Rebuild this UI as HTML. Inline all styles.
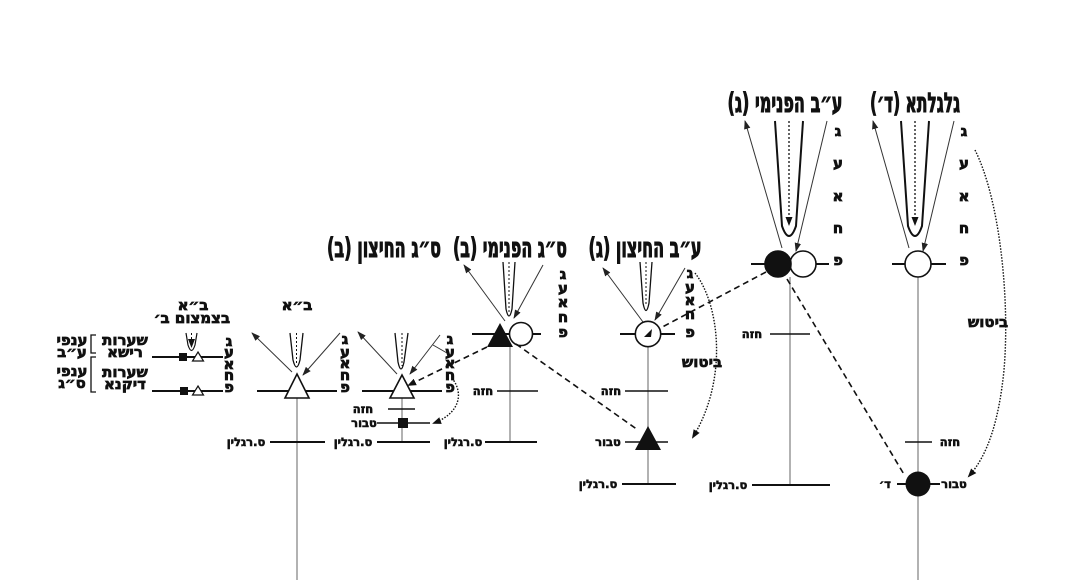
<!DOCTYPE html>
<html><head><meta charset="utf-8"><style>
html,body{margin:0;padding:0;background:#fff;}
svg{display:block;}
text{font-family:"DejaVu Sans","Liberation Sans",sans-serif;font-weight:bold;fill:#111;stroke:#111;}
.t{font-size:27px;stroke-width:1.1;}
.l{font-size:15px;stroke-width:0.7;}
.s{font-size:11.5px;stroke-width:0.6;}
.m{font-size:15px;stroke-width:0.7;}
</style></head><body>
<svg width="1068" height="580" viewBox="0 0 1068 580" xmlns="http://www.w3.org/2000/svg">
<defs>
<marker id="ah" markerWidth="9" markerHeight="8" refX="8" refY="4" orient="auto" markerUnits="userSpaceOnUse"><path d="M0,0.8 L9,4 L0,7.2 z" fill="#222"/></marker>
<marker id="ahs" markerWidth="9" markerHeight="8" refX="7" refY="4" orient="auto" markerUnits="userSpaceOnUse"><path d="M0,0.5 L9,4 L0,7.5 z" fill="#111"/></marker>
</defs>
<rect width="1068" height="580" fill="#fff"/>

<g fill="none" stroke="#111">
<!-- ===== Galgalta ===== -->
<line x1="918" y1="277" x2="918" y2="580" stroke="#888" stroke-width="1.3"/>
<line x1="892" y1="264" x2="946" y2="264" stroke-width="2"/>
<path d="M901,121 L908,226 Q915,246 922,226 L929,121" stroke-width="2"/>
<line x1="915" y1="121" x2="915" y2="224" stroke-width="1.3" stroke-dasharray="2,2" marker-end="url(#ahs)"/>
<line x1="909" y1="248" x2="873" y2="121" stroke-width="1" stroke="#333" marker-end="url(#ah)"/>
<line x1="954" y1="121" x2="923" y2="251" stroke-width="1" stroke="#333" marker-end="url(#ah)"/>
<circle cx="918" cy="264" r="13" fill="#fff" stroke-width="1.6"/>
<line x1="905" y1="442" x2="932" y2="442" stroke-width="1.6"/>
<line x1="897" y1="484" x2="940" y2="484" stroke-width="2"/>
<circle cx="918" cy="484" r="12.5" fill="#111" stroke="none"/>
<path d="M975,150 C1000,200 1010,300 1004,370 C999,420 988,455 969,476" stroke-width="1.4" stroke-dasharray="1.5,1.5" marker-end="url(#ahs)"/>

<!-- ===== AB Pnimi ===== -->
<line x1="790" y1="277" x2="790" y2="485" stroke="#888" stroke-width="1.3"/>
<line x1="751" y1="264" x2="829" y2="264" stroke-width="2"/>
<path d="M775,121 L782,226 Q789,246 796,226 L803,121" stroke-width="2"/>
<line x1="789" y1="121" x2="789" y2="224" stroke-width="1.3" stroke-dasharray="2,2" marker-end="url(#ahs)"/>
<line x1="782" y1="248" x2="745" y2="121" stroke-width="1" stroke="#333" marker-end="url(#ah)"/>
<line x1="827" y1="121" x2="796" y2="251" stroke-width="1" stroke="#333" marker-end="url(#ah)"/>
<circle cx="803" cy="264" r="13" fill="#fff" stroke-width="1.6"/>
<circle cx="778" cy="264" r="13" fill="#111" stroke="#111" stroke-width="1.6"/>
<line x1="770" y1="334" x2="810" y2="334" stroke-width="1.6"/>
<line x1="752" y1="485" x2="830" y2="485" stroke-width="2"/>
<line x1="787" y1="279" x2="905" y2="476" stroke-width="1.6" stroke-dasharray="6,4"/>
<line x1="766" y1="272" x2="651" y2="333" stroke-width="1.6" stroke-dasharray="6,4" marker-end="url(#ahs)"/>

<!-- ===== AB Chitzon ===== -->
<line x1="648" y1="347" x2="648" y2="485" stroke="#888" stroke-width="1.3"/>
<line x1="620" y1="334" x2="675" y2="334" stroke-width="2"/>
<path d="M640,262 L643,303 Q646,318 649,303 L652,262" stroke-width="1.3"/>
<line x1="646" y1="262" x2="646" y2="306" stroke-width="1" stroke-dasharray="2,2"/>
<line x1="643" y1="322" x2="603" y2="268" stroke-width="1" stroke="#333" marker-end="url(#ah)"/>
<line x1="685" y1="268" x2="655" y2="320" stroke-width="1" stroke="#333" marker-end="url(#ah)"/>
<circle cx="648" cy="334" r="12.7" fill="#fff" stroke-width="1.6"/>
<path d="M644,337 L652,329 L651,337 z" fill="#111" stroke="none"/>
<line x1="625" y1="391" x2="668" y2="391" stroke-width="1.6"/>
<line x1="625" y1="442" x2="668" y2="442" stroke-width="1.6"/>
<path d="M648,426 L661,450 L635,450 z" fill="#111" stroke="none"/>
<line x1="622" y1="484" x2="676" y2="484" stroke-width="2"/>
<path d="M695,273 C720,305 728,380 693,437" stroke-width="1.4" stroke-dasharray="1.5,1.5" marker-end="url(#ahs)"/>

<!-- ===== SAG Pnimi ===== -->
<line x1="510" y1="347" x2="510" y2="442" stroke="#888" stroke-width="1.3"/>
<line x1="472" y1="334" x2="541" y2="334" stroke-width="2"/>
<path d="M503,262 L506,309 Q509,323 512,309 L515,262" stroke-width="1.3"/>
<line x1="509" y1="262" x2="509" y2="313" stroke-width="1" stroke-dasharray="2,2"/>
<line x1="505" y1="321" x2="464" y2="265" stroke-width="1" stroke="#333" marker-end="url(#ah)"/>
<line x1="543" y1="265" x2="514" y2="318" stroke-width="1" stroke="#333" marker-end="url(#ah)"/>
<circle cx="521" cy="334" r="11.5" fill="#fff" stroke-width="1.6"/>
<path d="M500,323 L513,347 L487,347 z" fill="#111" stroke="none"/>
<line x1="497" y1="391" x2="538" y2="391" stroke-width="1.6"/>
<line x1="485" y1="442" x2="537" y2="442" stroke-width="2"/>
<line x1="516" y1="344" x2="638" y2="430" stroke-width="1.6" stroke-dasharray="6,4"/>
<line x1="487" y1="347" x2="409" y2="385" stroke-width="1.6" stroke-dasharray="6,4" marker-end="url(#ahs)"/>

<!-- ===== SAG Chitzon ===== -->
<line x1="402" y1="398" x2="402" y2="442" stroke="#888" stroke-width="1.3"/>
<line x1="362" y1="391" x2="442" y2="391" stroke-width="2"/>
<path d="M395,333 L398,362 Q401,376 404,362 L408,333" stroke-width="1.3"/>
<line x1="402" y1="333" x2="402" y2="366" stroke-width="1" stroke-dasharray="2,2"/>
<line x1="397" y1="374" x2="358" y2="332" stroke-width="1" stroke="#333" marker-end="url(#ah)"/>
<line x1="440" y1="335" x2="410" y2="374" stroke-width="1" stroke="#333" marker-end="url(#ah)"/>
<line x1="433" y1="345" x2="447" y2="353" stroke-width="1" stroke="#333"/>
<path d="M402,375 L414,398 L390,398 z" fill="#fff" stroke-width="1.6"/>
<line x1="388" y1="409" x2="415" y2="409" stroke-width="1.6"/>
<line x1="377" y1="423" x2="430" y2="423" stroke-width="1.6"/>
<rect x="398" y="418" width="10" height="10" fill="#111" stroke="none"/>
<line x1="377" y1="442" x2="430" y2="442" stroke-width="2"/>
<path d="M452,378 C465,395 458,414 434,423" stroke-width="1.4" stroke-dasharray="1.5,1.5" marker-end="url(#ahs)"/>

<!-- ===== BA ===== -->
<line x1="297" y1="398" x2="297" y2="580" stroke="#888" stroke-width="1.3"/>
<line x1="257" y1="391" x2="337" y2="391" stroke-width="2"/>
<path d="M290,333 L293,360 Q296.5,374 300,360 L303,333" stroke-width="1.3"/>
<line x1="296.5" y1="333" x2="296.5" y2="364" stroke-width="1" stroke-dasharray="2,2"/>
<line x1="292" y1="372" x2="252" y2="333" stroke-width="1" stroke="#333" marker-end="url(#ah)"/>
<line x1="340" y1="333" x2="303" y2="375" stroke-width="1" stroke="#333" marker-end="url(#ah)"/>
<path d="M297,374 L309,398 L285,398 z" fill="#fff" stroke-width="1.6"/>
<line x1="270" y1="442" x2="325" y2="442" stroke-width="2"/>

<!-- ===== Left panel ===== -->
<line x1="152" y1="357" x2="223" y2="357" stroke-width="2"/>
<line x1="152" y1="391" x2="223" y2="391" stroke-width="2"/>
<path d="M186,333 L188,345 Q191.5,356 195,345 L197,333" stroke-width="1.2"/>
<line x1="191.5" y1="333" x2="191.5" y2="346" stroke-width="1" stroke-dasharray="2,2" marker-end="url(#ahs)"/>
<rect x="179" y="353" width="8" height="8" fill="#111" stroke="none"/>
<path d="M198,352 L203.5,361 L192.5,361 z" fill="#fff" stroke-width="1.2"/>
<rect x="180" y="387" width="8" height="8" fill="#111" stroke="none"/>
<path d="M198,386 L203.5,395 L192.5,395 z" fill="#fff" stroke-width="1.2"/>
<path d="M96,335 H91 V353 H96" stroke-width="1.3"/>
<path d="M96,357 H91 V392 H96" stroke-width="1.3"/>
</g>

<!-- ===== Titles ===== -->
<text class="t" x="915" y="112" text-anchor="middle" direction="rtl" textLength="90" lengthAdjust="spacingAndGlyphs">גלגלתא (ד׳)</text>
<text class="t" x="785" y="112" text-anchor="middle" direction="rtl" textLength="115" lengthAdjust="spacingAndGlyphs">ע״ב הפנימי (ג)</text>
<text class="t" x="645" y="257" text-anchor="middle" direction="rtl" textLength="113" lengthAdjust="spacingAndGlyphs">ע״ב החיצון (ג)</text>
<text class="t" x="510" y="257" text-anchor="middle" direction="rtl" textLength="114" lengthAdjust="spacingAndGlyphs">ס״ג הפנימי (ב)</text>
<text class="t" x="384" y="257" text-anchor="middle" direction="rtl" textLength="114" lengthAdjust="spacingAndGlyphs">ס״ג החיצון (ב)</text>
<text class="m" x="297" y="310" text-anchor="middle" direction="rtl">ב״א</text>
<text class="m" x="193" y="310" text-anchor="middle" direction="rtl">ב״א</text>
<text class="m" x="192" y="323" text-anchor="middle" direction="rtl">בצמצום ב׳</text>

<!-- ===== Letter columns ===== -->
<g text-anchor="middle" dominant-baseline="central">
<text class="l" x="964" y="131">ג</text><text class="l" x="964" y="163">ע</text><text class="l" x="964" y="196">א</text><text class="l" x="964" y="228">ח</text><text class="l" x="964" y="260">פ</text>
<text class="l" x="838" y="131">ג</text><text class="l" x="838" y="163">ע</text><text class="l" x="838" y="196">א</text><text class="l" x="838" y="228">ח</text><text class="l" x="838" y="260">פ</text>
<text class="l" x="690" y="273">ג</text><text class="l" x="690" y="287">ע</text><text class="l" x="690" y="300">א</text><text class="l" x="690" y="314">ח</text><text class="l" x="690" y="332">פ</text>
<text class="l" x="563" y="274">ג</text><text class="l" x="563" y="288">ע</text><text class="l" x="563" y="302">א</text><text class="l" x="563" y="317">ח</text><text class="l" x="563" y="332">פ</text>
<text class="l" x="450" y="339">ג</text><text class="l" x="450" y="352">ע</text><text class="l" x="450" y="363">א</text><text class="l" x="450" y="375">ח</text><text class="l" x="450" y="387">פ</text>
<text class="l" x="345" y="339">ג</text><text class="l" x="345" y="352">ע</text><text class="l" x="345" y="363">א</text><text class="l" x="345" y="375">ח</text><text class="l" x="345" y="387">פ</text>
<text class="l" x="229" y="341">ג</text><text class="l" x="229" y="352">ע</text><text class="l" x="229" y="364">א</text><text class="l" x="229" y="375">ח</text><text class="l" x="229" y="387">פ</text>
</g>

<!-- ===== Small labels ===== -->
<g text-anchor="middle" dominant-baseline="central" direction="rtl">
<text class="s" x="950" y="442">חזה</text>
<text class="s" x="885" y="484">ד׳</text>
<text class="s" x="954" y="484">טבור</text>
<text class="m" x="988" y="322">ביטוש</text>
<text class="s" x="752" y="334">חזה</text>
<text class="s" x="728" y="485">ס.רגלין</text>
<text class="s" x="611" y="391">חזה</text>
<text class="s" x="608" y="442">טבור</text>
<text class="s" x="598" y="484">ס.רגלין</text>
<text class="m" x="702" y="362">ביטוש</text>
<text class="s" x="483" y="391">חזה</text>
<text class="s" x="463" y="442">ס.רגלין</text>
<text class="s" x="363" y="409">חזה</text>
<text class="s" x="364" y="423">טבור</text>
<text class="s" x="353" y="442">ס.רגלין</text>
<text class="s" x="246" y="442">ס.רגלין</text>
<text class="m" x="125" y="340">שערות</text>
<text class="m" x="125" y="352">רישא</text>
<text class="m" x="125" y="372">שערות</text>
<text class="m" x="125" y="384">דיקנא</text>
<text class="m" x="72" y="340">ענפי</text>
<text class="m" x="72" y="352">ע״ב</text>
<text class="m" x="72" y="371">ענפי</text>
<text class="m" x="72" y="383">ס״ג</text>
</g>
</svg>
</body></html>
